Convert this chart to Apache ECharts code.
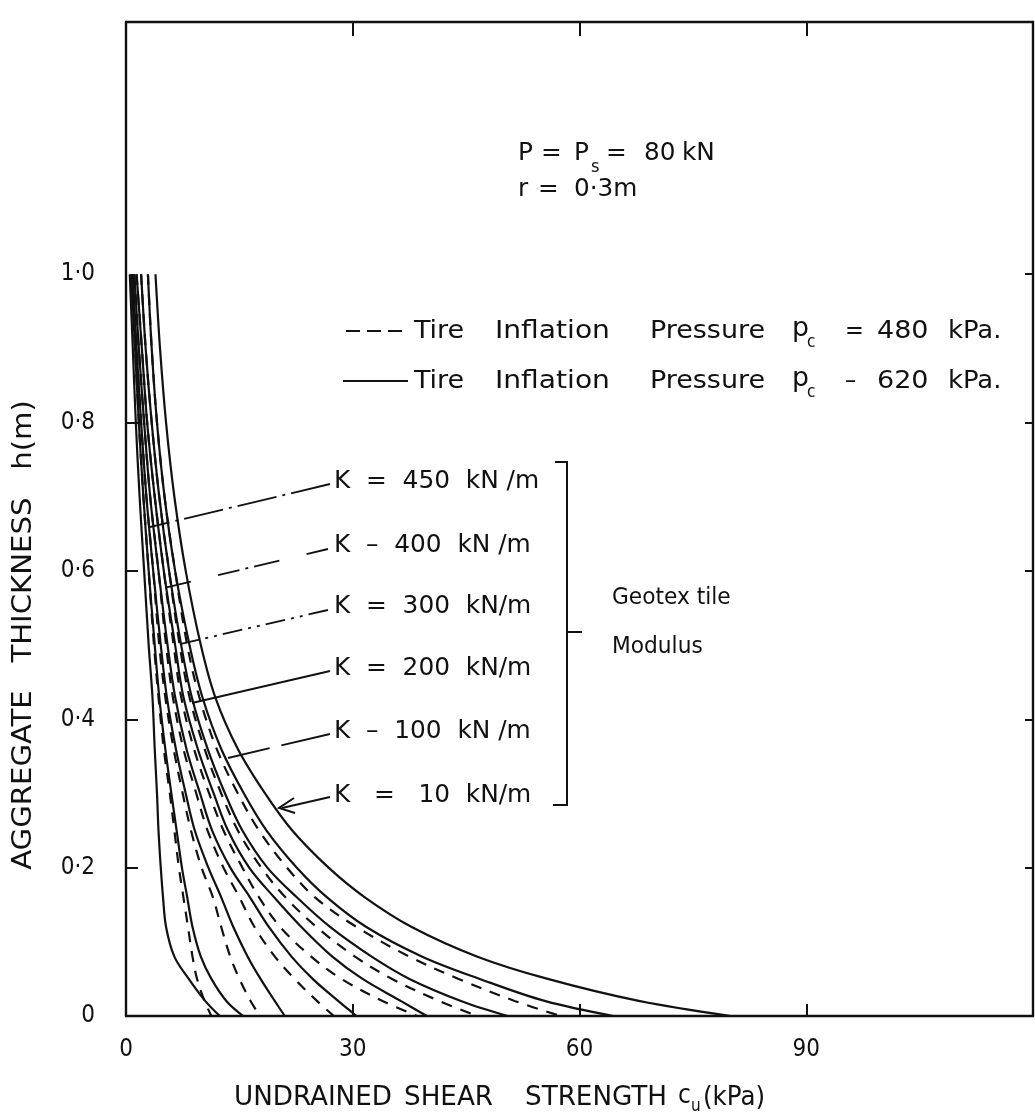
<!DOCTYPE html>
<html><head><meta charset="utf-8">
<script src="https://cdn.jsdelivr.net/npm/echarts@6/dist/echarts.min.js"></script>
<style>html,body{margin:0;padding:0;background:#fff}#c{width:1035px;height:1120px}</style>
</head><body><div id="c"></div>
<script>
// aggregate thickness levels h (m) at which each curve was read
const H  = [1.0, 0.9, 0.8, 0.7, 0.6, 0.5, 0.43, 0.36, 0.3, 0.25, 0.2, 0.16, 0.12, 0.08, 0.05, 0.02, 0];
// undrained shear strength cu (kPa) read for each curve at the levels above
// solid curves (tire inflation pressure 620 kPa)
const S1 = [0.5, 0.9, 1.3, 1.8, 2.4, 3.0, 3.5, 3.8, 4.1, 4.3, 4.6, 4.9, 5.3, 6.4, 8.3, 10.5, 12.4];
const S2 = [0.7, 1.2, 1.7, 2.3, 3.0, 3.8, 4.4, 5.2, 6.0, 6.7, 7.4, 8.1, 8.8, 9.9, 11.3, 13.3, 15.5];
const S3 = [0.9, 1.4, 2.0, 2.7, 3.6, 4.6, 5.4, 6.6, 7.9, 9.1, 10.9, 12.6, 14.2, 16.1, 17.8, 19.7, 21.0];
const S4 = [1.1, 1.7, 2.4, 3.2, 4.3, 5.5, 6.5, 8.0, 9.8, 11.4, 13.8, 16.4, 18.9, 21.9, 24.7, 28.1, 30.5];
const S5 = [1.4, 2.1, 2.8, 3.8, 5.0, 6.5, 7.6, 9.5, 11.6, 13.5, 16.3, 19.6, 23.2, 27.3, 31.3, 36.4, 39.8];
const S6 = [2.0, 2.6, 3.4, 4.4, 5.7, 7.3, 8.7, 10.8, 13.1, 15.4, 18.7, 22.6, 27.0, 32.5, 37.5, 44.4, 50.5];
const S7 = [2.9, 3.4, 4.1, 5.1, 6.5, 8.4, 10.1, 12.6, 15.6, 18.6, 22.6, 26.6, 31.8, 39.2, 46.8, 55.5, 64.5];
const S8 = [3.9, 4.5, 5.3, 6.4, 7.9, 9.9, 11.8, 14.8, 18.4, 22.0, 26.8, 31.6, 37.8, 46.5, 55.8, 68.0, 80.0];
// dashed curves (tire inflation pressure 480 kPa)
const D1 = [0.7, 1.2, 1.7, 2.3, 3.0, 3.7, 4.3, 5.0, 5.8, 6.4, 7.0, 7.6, 8.2, 8.8, 9.4, 10.4, 11.3];
const D2 = [0.9, 1.4, 2.0, 2.7, 3.6, 4.4, 5.2, 6.3, 7.5, 8.6, 10.0, 11.5, 12.6, 13.8, 15.0, 16.5, 17.7];
const D3 = [1.1, 1.7, 2.4, 3.2, 4.3, 5.3, 6.2, 7.6, 9.3, 10.8, 12.9, 15.0, 17.0, 19.7, 22.3, 25.3, 27.5];
const D4 = [1.4, 2.1, 2.8, 3.8, 5.0, 6.3, 7.3, 9.0, 11.0, 12.9, 15.4, 17.6, 20.4, 24.5, 28.5, 34.0, 38.5];
const D5 = [2.0, 2.6, 3.4, 4.4, 5.7, 7.1, 8.4, 10.4, 12.6, 14.8, 17.9, 21.1, 25.2, 30.3, 35.2, 41.5, 46.5];
const D6 = [2.9, 3.4, 4.1, 5.1, 6.5, 8.1, 9.7, 12.0, 14.8, 17.6, 21.3, 25.0, 30.5, 37.5, 44.0, 51.5, 57.5];

const solidCurves = [S1, S2, S3, S4, S5, S6, S7, S8];
const dashedCurves = [D1, D2, D3, D4, D5, D6];

const xTickValues = [0, 30, 60, 90];
const xTickLabels = ['0', '30', '60', '90'];
const yTickValues = [0, 0.2, 0.4, 0.6, 0.8, 1.0];
const yTickLabels = ['0', '0·2', '0·4', '0·6', '0·8', '1·0'];
const kLabels = ['K  =  450  kN /m', 'K  \u2013  400  kN /m', 'K  =  300  kN/m', 'K  =  200  kN/m', 'K  \u2013  100  kN /m', 'K   =   10  kN/m'];

const FONT = "'DejaVu Sans Condensed', 'Liberation Sans Narrow', 'DejaVu Sans', sans-serif";
const INK = '#111';

const chart = echarts.init(document.getElementById('c'), null, {renderer: 'canvas'});

const series = [];
solidCurves.forEach((c, k) => series.push({
  type: 'line', name: 'S' + (k + 1), data: H.map((h, i) => [c[i], h]),
  showSymbol: false, smooth: 0.35, silent: true,
  lineStyle: {color: INK, width: 2.2, type: 'solid'}
}));
dashedCurves.forEach((c, k) => series.push({
  type: 'line', name: 'D' + (k + 1), data: H.map((h, i) => [c[i], h]),
  showSymbol: false, smooth: 0.35, silent: true,
  lineStyle: {color: INK, width: 2.2, type: [11, 9]}
}));

function txt(x, y, s, size, sx, extra) {
  return {
    type: 'text', x: x, y: y, silent: true, scaleX: sx || 1,
    style: Object.assign({text: s, font: size + 'px ' + FONT, fill: INK, textAlign: 'left', textVerticalAlign: 'middle'}, extra || {})
  };
}
function seg(x1, y1, x2, y2, dash, w) {
  return {type: 'line', silent: true, shape: {x1, y1, x2, y2},
    style: {stroke: INK, lineWidth: w || 1.8, lineDash: dash || null}};
}

const kY = [482, 546, 607, 669, 732, 796];
const graphics = [];
// header text
graphics.push(txt(518, 153, 'P', 25, 1.1));
graphics.push(txt(541, 153, '=', 25, 1.1));
graphics.push(txt(574, 153, 'P', 25, 1.1));
graphics.push(txt(591, 167, 's', 18));
graphics.push(txt(606, 153, '=', 25, 1.1));
graphics.push(txt(644, 153, '80', 25, 1.1));
graphics.push(txt(682, 153, 'kN', 25, 1.1));
graphics.push(txt(518, 189, 'r', 25, 1.1));
graphics.push(txt(538, 189, '=', 25, 1.1));
graphics.push(txt(574, 189, '0·3m', 25, 1.1));
// legend lines
[[331, '=', '480'], [381, '\u2013', '620']].forEach(([y, eq, val], j) => {
  if (j === 0) graphics.push(seg(346, y, 408, y, [14, 7], 2.2));
  else graphics.push(seg(343, y, 408, y, null, 2.2));
  graphics.push(txt(414, y, 'Tire', 25, 1.2));
  graphics.push(txt(495, y, 'Inflation', 25, 1.25));
  graphics.push(txt(650, y, 'Pressure', 25, 1.2));
  graphics.push(txt(792, y - 2, 'p', 27, 1.1));
  graphics.push(txt(807, y + 12, 'c', 17));
  graphics.push(txt(845, y, eq, 25));
  graphics.push(txt(877, y, val, 25, 1.2));
  graphics.push(txt(948, y, 'kPa.', 25, 1.15));
});
// K labels
kLabels.forEach((s, i) => graphics.push(txt(334, kY[i], s, 24, 1.15)));
// leader lines
graphics.push(seg(330, 484, 150, 527, [40, 6, 3, 6]));
graphics.push(seg(328, 549, 160, 589, [22, 28, 26, 6, 3, 6]));
graphics.push(seg(328, 610, 176, 645, [20, 6, 3, 6, 3, 6]));
graphics.push(seg(330, 671, 192, 703, null));
graphics.push(seg(330, 734, 228, 758, [50, 12]));
graphics.push(seg(330, 797, 282, 808, null));
graphics.push({type: 'polyline', silent: true, shape: {points: [[294, 798], [279, 808], [295, 813]]}, style: {stroke: INK, lineWidth: 2, fill: null}});
// bracket
graphics.push({type: 'polyline', silent: true, shape: {points: [[555, 462], [567, 462], [567, 805], [553, 805]]}, style: {stroke: INK, lineWidth: 2, fill: null}});
graphics.push(seg(567, 632, 582, 632, null, 2));
graphics.push(txt(612, 598, 'Geotex tile', 23, 1.05));
graphics.push(txt(612, 647, 'Modulus', 23, 1.05));
// axis titles
graphics.push(txt(234, 1098, 'UNDRAINED', 26, 1.12));
graphics.push(txt(404, 1098, 'SHEAR', 26, 1.12));
graphics.push(txt(525, 1098, 'STRENGTH', 26, 1.12));
graphics.push(txt(678, 1096, 'c', 26));
graphics.push(txt(691, 1107, 'u', 17));
graphics.push(txt(703, 1098, '(kPa)', 26, 1.05));
const yTitle = txt(24, 635, 'AGGREGATE   THICKNESS   h(m)', 27, 1.2, {textAlign: 'center'});
yTitle.rotation = Math.PI / 2;
graphics.push(yTitle);

const axisLine = {show: true, onZero: false, lineStyle: {color: INK, width: 2.4}};
chart.setOption({
  animation: false,
  backgroundColor: '#fff',
  grid: {left: 126, right: 2, top: 22, bottom: 104, containLabel: false},
  xAxis: [{
    type: 'value', min: 0, max: 120, interval: 30, position: 'bottom',
    axisLine: axisLine, splitLine: {show: false},
    axisTick: {show: true, inside: true, length: 12, lineStyle: {color: INK, width: 2}, customValues: [30, 60, 90]},
    axisLabel: {show: true, margin: 22, color: INK, fontSize: 24, fontFamily: FONT, customValues: xTickValues,
      formatter: v => xTickLabels[xTickValues.indexOf(v)] || ''}
  }, {
    type: 'value', min: 0, max: 120, interval: 30, position: 'top',
    axisLine: axisLine, splitLine: {show: false},
    axisTick: {show: true, inside: true, length: 14, lineStyle: {color: INK, width: 2}, customValues: [30, 60, 90]},
    axisLabel: {show: false}
  }],
  yAxis: [{
    type: 'value', min: 0, max: 1.34, interval: 0.2, position: 'left',
    axisLine: axisLine, splitLine: {show: false},
    axisTick: {show: true, inside: true, length: 12, lineStyle: {color: INK, width: 2}, customValues: [0.2, 0.4, 0.6, 0.8]},
    axisLabel: {show: true, margin: 31, color: INK, fontSize: 24, fontFamily: FONT, customValues: yTickValues,
      formatter: v => { const i = yTickValues.findIndex(t => Math.abs(t - v) < 1e-6); return i >= 0 ? yTickLabels[i] : ''; }}
  }, {
    type: 'value', min: 0, max: 1.34, interval: 0.2, position: 'right',
    axisLine: axisLine, splitLine: {show: false},
    axisTick: {show: true, inside: true, length: 8, lineStyle: {color: INK, width: 2}, customValues: [0.2, 0.4, 0.6, 0.8, 1.0]},
    axisLabel: {show: false}
  }],
  series: series,
  graphic: graphics
});
</script></body></html>
